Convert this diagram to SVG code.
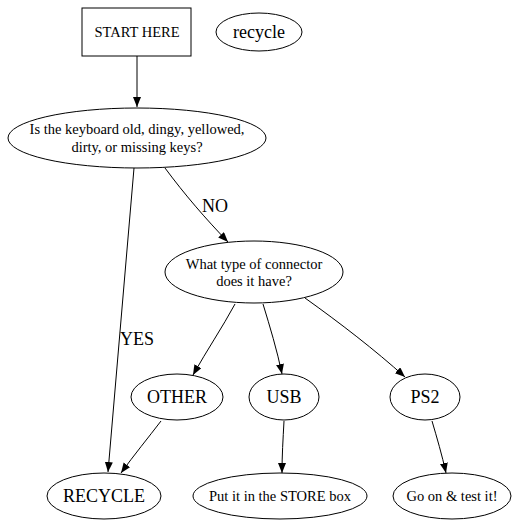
<svg xmlns="http://www.w3.org/2000/svg" width="528" height="527" viewBox="0 0 528 527">
<style>
.n{fill:none;stroke:#000;stroke-width:1}
.e{fill:none;stroke:#000;stroke-width:1}
.t{font-family:"Liberation Serif","Times New Roman",serif;fill:#000;text-anchor:middle}
.s{font-size:14.5px}
.b{font-size:18px}
</style>
<defs>
<marker id="a" markerUnits="userSpaceOnUse" markerWidth="12" markerHeight="10" refX="10" refY="4" orient="auto">
<path d="M0,0 L10,4 L0,8 Z" fill="#000"/>
</marker>
</defs>
<rect width="528" height="527" fill="#fff"/>
<g id="edges">
<path class="e" d="M137,56 L137,107" marker-end="url(#a)"/>
<path class="e" d="M134,168 L108,472" marker-end="url(#a)"/>
<path class="e" d="M165,168 C185,195 205,218 228,242" marker-end="url(#a)"/>
<path class="e" d="M235,304 C222,328 207,350 193,375" marker-end="url(#a)"/>
<path class="e" d="M263,304 C270,327 277,350 282,374" marker-end="url(#a)"/>
<path class="e" d="M305,298 C340,323 375,350 405,377" marker-end="url(#a)"/>
<path class="e" d="M161,421 C148,438 134,455 121,473" marker-end="url(#a)"/>
<path class="e" d="M284,421 C283,440 282,455 282,473" marker-end="url(#a)"/>
<path class="e" d="M432,421 C437,438 442,455 446,473" marker-end="url(#a)"/>
<text class="t b" x="215" y="212">NO</text>
<text class="t b" x="137" y="345">YES</text>
</g>
<g id="start">
<rect class="n" x="82" y="8" width="109" height="48"/>
<text class="t s" x="137" y="37">START HERE</text>
</g>
<g id="recycle">
<ellipse class="n" cx="259" cy="32" rx="43" ry="19"/>
<text class="t b" x="259" y="38">recycle</text>
</g>
<g id="question">
<ellipse class="n" cx="137" cy="138" rx="129" ry="30"/>
<text class="t s" x="137" y="134">Is the keyboard old, dingy, yellowed,</text>
<text class="t s" x="137" y="152">dirty, or missing keys?</text>
</g>
<g id="connector">
<ellipse class="n" cx="254" cy="272" rx="89" ry="31"/>
<text class="t s" x="254" y="269">What type of connector</text>
<text class="t s" x="254" y="286">does it have?</text>
</g>
<g id="other">
<ellipse class="n" cx="177" cy="397" rx="46" ry="23"/>
<text class="t b" x="177" y="403">OTHER</text>
</g>
<g id="usb">
<ellipse class="n" cx="284" cy="397" rx="35" ry="23"/>
<text class="t b" x="284" y="403">USB</text>
</g>
<g id="ps2">
<ellipse class="n" cx="425" cy="397" rx="35" ry="23"/>
<text class="t b" x="425" y="403">PS2</text>
</g>
<g id="RECYCLE">
<ellipse class="n" cx="104" cy="496" rx="57" ry="23"/>
<text class="t b" x="104" y="502">RECYCLE</text>
</g>
<g id="store">
<ellipse class="n" cx="280" cy="496" rx="87" ry="23"/>
<text class="t s" x="280" y="501">Put it in the STORE box</text>
</g>
<g id="test">
<ellipse class="n" cx="452" cy="496" rx="59" ry="23"/>
<text class="t s" x="452" y="501">Go on &amp; test it!</text>
</g>
</svg>
